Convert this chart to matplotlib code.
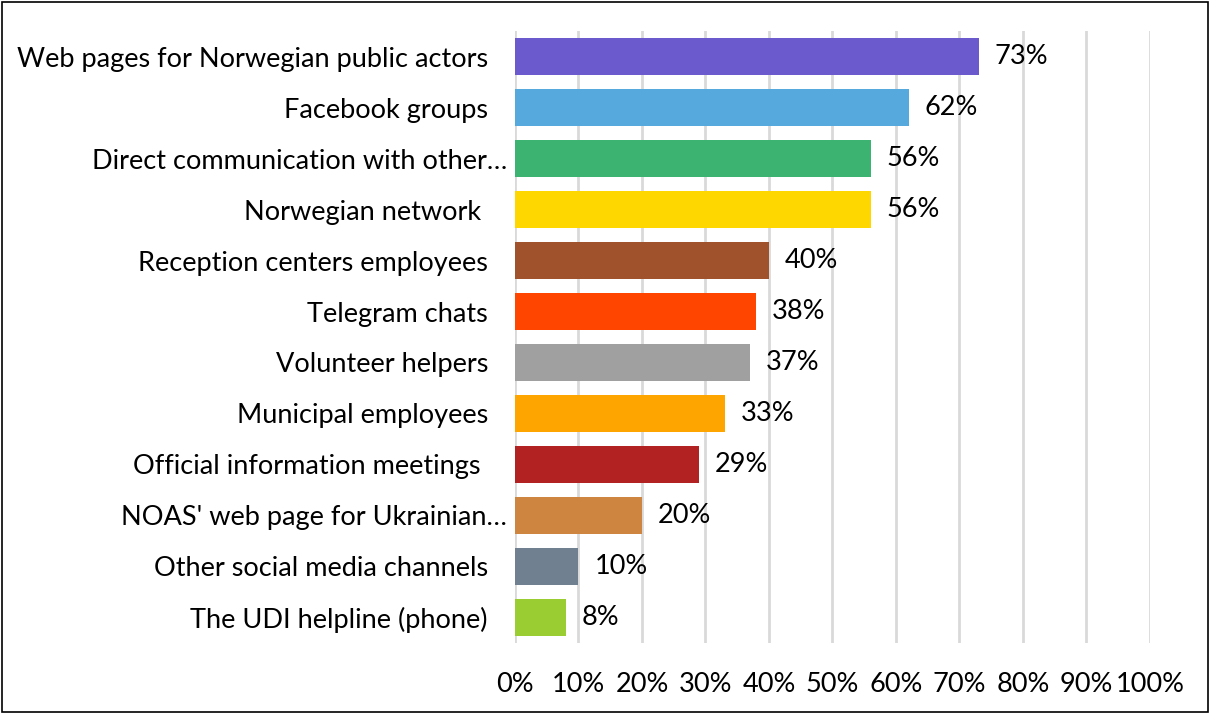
import numpy as np
import matplotlib
matplotlib.use('Agg')
from matplotlib import pyplot as plt
from matplotlib.patches import Rectangle
from matplotlib.transforms import ScaledTranslation

# sources of information, top to bottom
channels = [
    'Web pages for Norwegian public actors',
    'Facebook groups',
    'Direct communication with other\u2026',
    'Norwegian network ',
    'Reception centers employees',
    'Telegram chats',
    'Volunteer helpers',
    'Municipal employees',
    'Official information meetings ',
    "NOAS' web page for Ukrainian\u2026",
    'Other social media channels',
    'The UDI helpline (phone)',
]
share = [73, 62, 56, 56, 40, 38, 37, 33, 29, 20, 10, 8]
colors = ['#6A5ACD', '#56A9DD', '#3CB371', '#FFD700', '#A0522D', '#FF4500',
          '#A0A0A0', '#FFA500', '#B22222', '#CD853F', '#708090', '#9ACD32']
xticks = np.arange(0, 101, 10)

plt.rcParams['font.family'] = ['Lato', 'DejaVu Sans']
fs = 19.5

fig = plt.figure(figsize=(12.1, 7.13), dpi=100)
ax = fig.add_axes([0.4256, 0.0982, 0.5248, 0.8583])

y = np.arange(len(channels))
ax.barh(y, share, height=0.72, color=colors, zorder=3)
for yi, v in zip(y, share):
    ax.text(v + 2.5, yi, f'{v}%', va='center', ha='left', fontsize=fs)

ax.set_xlim(0, 100)
ax.set_ylim(len(channels) - 0.5, -0.5)
ax.set_xticks(xticks)
ax.set_xticklabels([f'{t}%' for t in xticks], fontsize=fs)
ax.set_yticks(y)
ax.set_yticklabels(channels, fontsize=fs)
ax.tick_params(axis='x', length=0, pad=21)
ax.tick_params(axis='y', length=0, pad=19.5)
ax.grid(axis='x', color='#D9D9D9', linewidth=2, zorder=0)
for s in ax.spines.values():
    s.set_visible(False)

# truncated labels run a little closer to the bars
nudge = ScaledTranslation(0.19, 0, fig.dpi_scale_trans)
for lab in ax.get_yticklabels():
    if lab.get_text().endswith('\u2026'):
        lab.set_transform(lab.get_transform() + nudge)

# outer frame
fig.patches.append(Rectangle((0.002, 0.002), 0.996, 0.995, transform=fig.transFigure,
                             fill=False, edgecolor='black', linewidth=1.2))

fig.savefig('out.png', dpi=100)
